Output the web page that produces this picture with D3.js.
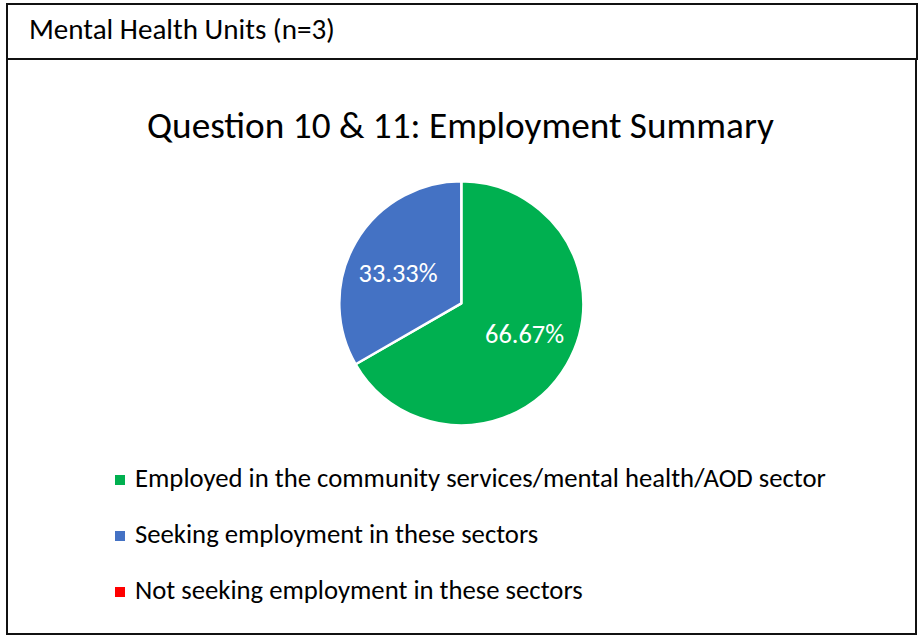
<!DOCTYPE html>
<html>
<head>
<meta charset="utf-8">
<script src="https://cdn.jsdelivr.net/npm/d3@7"></script>
<style>
  html, body { margin: 0; padding: 0; background: #fff; }
  svg { display: block; }
  text { font-family: Carlito, Calibri, Lato, "Open Sans", sans-serif; }
</style>
</head>
<body>
<svg id="chart" width="919" height="635"></svg>
<script>
// Employment summary data
const panelTitle = "Mental Health Units (n=3)";
const chartTitle = "Question 10 & 11: Employment Summary";
const categories = [
  "Employed in the community services/mental health/AOD sector",
  "Seeking employment in these sectors",
  "Not seeking employment in these sectors"
];
const shares = [66.67, 33.33, 0];
const colors = ["#00B050", "#4472C4", "#FF0000"];

const svg = d3.select("#chart");

// Fit a text element's font size so its rendered width equals a target width
function fitWidth(sel, target) {
  const node = sel.node();
  const base = parseFloat(sel.attr("font-size"));
  const w = node.getComputedTextLength();
  sel.attr("font-size", (base * target / w).toFixed(2));
}

// Frames: header strip and chart panel
svg.append("rect").attr("x", 7).attr("y", 4).attr("width", 910).attr("height", 55)
  .attr("fill", "none").attr("stroke", "#111").attr("stroke-width", 2);
svg.append("rect").attr("x", 7).attr("y", 59).attr("width", 909).attr("height", 575)
  .attr("fill", "none").attr("stroke", "#111").attr("stroke-width", 2);

const head = svg.append("text").attr("x", 29).attr("y", 39)
  .attr("font-size", 24).attr("fill", "#000").text(panelTitle);
fitWidth(head, 306);

const title = svg.append("text").attr("x", 460.5).attr("y", 138)
  .attr("text-anchor", "middle").attr("font-size", 36).attr("fill", "#000").text(chartTitle);
fitWidth(title, 627);

// Pie
const cx = 461.3, cy = 303.3, r = 122;
const data = categories.map((c, i) => ({ name: c, value: shares[i], color: colors[i] }));
const pie = d3.pie().value(d => d.value).sort(null);
const arcs = pie(data);
const arc = d3.arc().innerRadius(0).outerRadius(r);

// Data labels sit on an ellipse around the centre, at each slice's mid-angle
const labelRx = 73, labelRy = 61;
function labelPos(d) {
  const a = (d.startAngle + d.endAngle) / 2;
  return [Math.sin(a) * labelRx, -Math.cos(a) * labelRy];
}

const g = svg.append("g").attr("transform", `translate(${cx},${cy})`);
g.selectAll("path").data(arcs.filter(a => a.data.value > 0)).join("path")
  .attr("d", arc)
  .attr("fill", d => d.data.color)
  .attr("stroke", "#fff").attr("stroke-width", 2.5).attr("stroke-linejoin", "round");

g.selectAll("text.pct").data(arcs.filter(a => a.data.value > 0)).join("text")
  .attr("class", "pct")
  .attr("transform", d => { const [x, y] = labelPos(d); return `translate(${x},${y})`; })
  .attr("text-anchor", "middle").attr("dominant-baseline", "central")
  .attr("font-size", 24).attr("fill", "#fff")
  .text(d => d.data.value.toFixed(2) + "%")
  .each(function () { fitWidth(d3.select(this), 79); });

// Legend
const legendY = d3.scalePoint().domain(categories).range([487, 599]);
const leg = svg.append("g");
leg.selectAll("rect").data(data).join("rect")
  .attr("x", 115).attr("y", d => legendY(d.name) - 12)
  .attr("width", 10).attr("height", 10).attr("fill", d => d.color);
const legTexts = leg.selectAll("text").data(data).join("text")
  .attr("x", 135).attr("y", d => legendY(d.name))
  .attr("font-size", 22).attr("fill", "#000").text(d => d.name);
const first = legTexts.filter((d, i) => i === 0);
fitWidth(first, 691);
legTexts.attr("font-size", first.attr("font-size"));
</script>
</body>
</html>
